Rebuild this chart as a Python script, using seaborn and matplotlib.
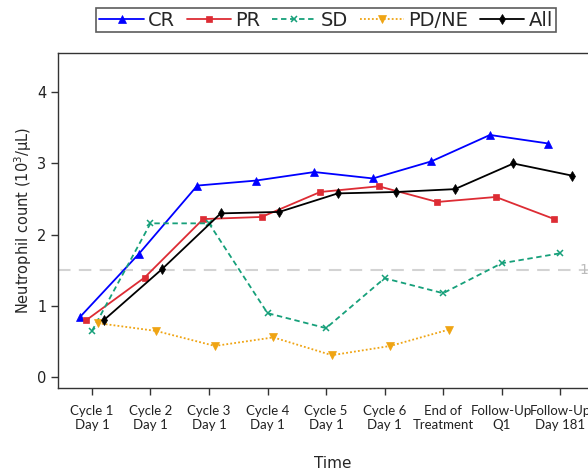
import numpy as np
import pandas as pd
import matplotlib
matplotlib.use("Agg")
import matplotlib.pyplot as plt
import seaborn as sns
from matplotlib.lines import Line2D

sns.set_theme(style="ticks")
plt.rcParams['font.family'] = ['DejaVu Sans']

timepoints = ["Cycle 1\nDay 1", "Cycle 2\nDay 1", "Cycle 3\nDay 1", "Cycle 4\nDay 1",
              "Cycle 5\nDay 1", "Cycle 6\nDay 1", "End of\nTreatment", "Follow-Up\nQ1",
              "Follow-Up\nDay 181"]
groups = ["CR", "PR", "SD", "PD/NE", "All"]
cr = [0.85, 1.73, 2.69, 2.76, 2.88, 2.79, 3.03, 3.40, 3.28]
pr = [0.80, 1.40, 2.22, 2.25, 2.60, 2.68, 2.46, 2.53, 2.22]
sd = [0.65, 2.16, 2.16, 0.90, 0.69, 1.39, 1.18, 1.60, 1.74]
pdne = [0.76, 0.65, 0.44, 0.56, 0.31, 0.44, 0.67]
all_ = [0.80, 1.52, 2.30, 2.32, 2.58, 2.60, 2.64, 3.00, 2.83]
ref_value = 1.5

series = {"CR": cr, "PR": pr, "SD": sd, "PD/NE": pdne, "All": all_}
rows = []
for g, vals in series.items():
    for i, v in enumerate(vals):
        rows.append({"group": g, "t": i, "value": v})
df = pd.DataFrame(rows)

colors = {"CR": "#0000FF", "PR": "#DD2C34", "SD": "#16A07A", "PD/NE": "#EFA413", "All": "#000000"}
markers = {"CR": "^", "PR": "s", "SD": "x", "PD/NE": "v", "All": "d"}
msizes = {"CR": 5.5, "PR": 5, "SD": 5, "PD/NE": 5.5, "All": 5}
lstyles = {"CR": "-", "PR": "-", "SD": (0, (3, 2)), "PD/NE": (0, (1, 1.2)), "All": "-"}
offsets = {"CR": -0.2, "PR": -0.1, "SD": 0.0, "PD/NE": 0.1, "All": 0.2}

fig = plt.figure(figsize=(5.88, 4.75), dpi=100)
ax = fig.add_axes([58/588, 87/475, 549/588, 335/475])

ax.axhline(ref_value, color="#D3D3D3", lw=1.5, ls=(0, (6, 4)), zorder=0)
ax.text(8.33, ref_value, "1.5", color="#BBBBBB", fontsize=10, va="center", ha="left")

for g in groups:
    sub = df[df.group == g]
    sns.lineplot(x=sub["t"] + offsets[g], y=sub["value"], ax=ax, color=colors[g],
                 marker=markers[g], markersize=msizes[g],
                 markeredgewidth=1.1 if g == "SD" else 0.5,
                 markeredgecolor=colors[g],
                 linestyle=lstyles[g], lw=1.3, legend=False, sort=False)

ax.set_xlim(-0.58, 8.8)
ax.set_ylim(-0.15, 4.55)
ax.set_xticks(range(len(timepoints)))
ax.set_xticklabels(timepoints, fontsize=9.5, color="#222222", family=["Lato", "DejaVu Sans"],
                   linespacing=1.25)
ax.set_yticks([0, 1, 2, 3, 4])
ax.set_yticklabels(["0", "1", "2", "3", "4"], fontsize=10.5, color="#222222")
ax.tick_params(axis="both", direction="out", length=5, width=1, color="#333333")
ax.tick_params(axis="x", pad=7)
ax.set_xlabel("Time", fontsize=11, labelpad=18)
ax.set_ylabel("Neutrophil count (10$^3$/\u03bcL)", fontsize=10.5, labelpad=2)
for s in ["left", "bottom", "top"]:
    ax.spines[s].set_color("#333333")
    ax.spines[s].set_linewidth(1)
ax.spines["right"].set_visible(False)

handles = [Line2D([0], [0], color=colors[g], marker=markers[g], linestyle=lstyles[g],
                  lw=1.3, markersize=msizes[g], markeredgewidth=1.1 if g == "SD" else 0.5,
                  markeredgecolor=colors[g]) for g in groups]
leg = fig.legend(handles, groups, loc="center", bbox_to_anchor=(326/588, 1 - 20/475),
                 ncol=5, fontsize=14, frameon=True, fancybox=False, edgecolor="#333333",
                 handlelength=2.3, handletextpad=0.2, columnspacing=0.6,
                 borderpad=0.15, borderaxespad=0)
leg.get_frame().set_linewidth(1.2)

fig.savefig("out.png", dpi=100)
